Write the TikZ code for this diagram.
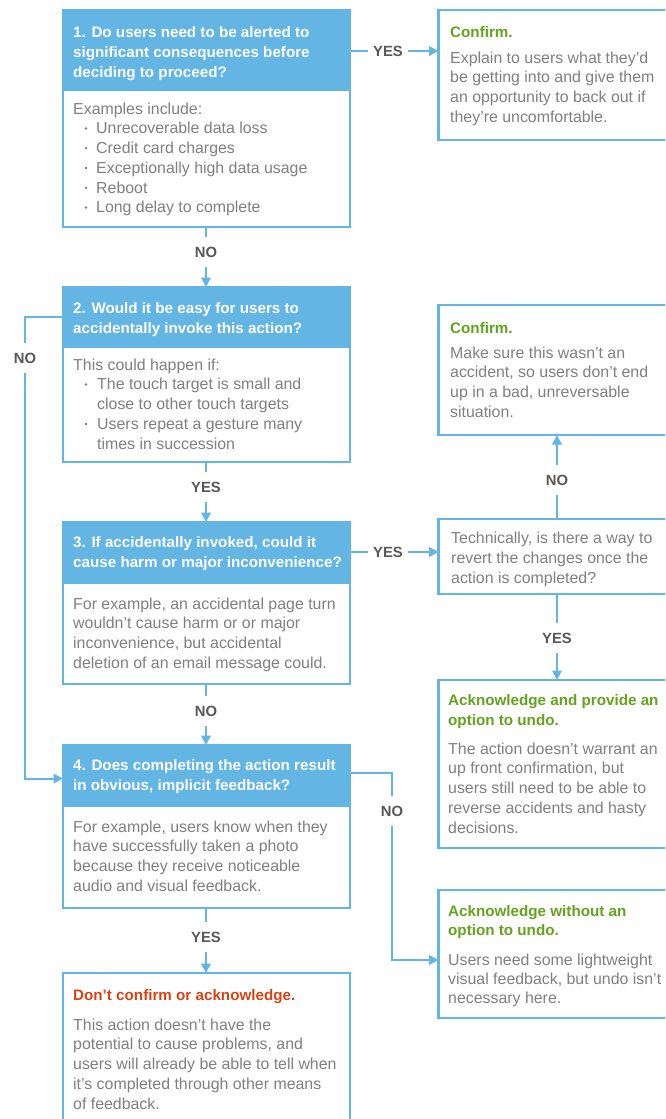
\documentclass[tikz,border=0pt]{standalone}
\usepackage{fontspec}
\setmainfont{Liberation Sans}
\usetikzlibrary{arrows.meta}

\definecolor{qblue}{RGB}{99,181,228}
\definecolor{bodygray}{RGB}{128,128,128}
\definecolor{okgreen}{RGB}{100,163,28}
\definecolor{stopred}{RGB}{216,67,21}
\definecolor{lblgray}{RGB}{88,88,88}

% one node per text row: prefix, style, x, first baseline, row step, rows
\newcommand\textrows[6]{%
  \foreach \row [count=\k from 0] in {#6}
    \node[#2] (#1-\k) at (#3,{#4+#5*\k}) {\row};}

\begin{document}
\begin{tikzpicture}[x=1pt,y=-1pt,
  frame/.style={draw=qblue, line width=2.3pt, inner sep=0pt, outer sep=0pt, anchor=north west},
  head/.style={fill=qblue, draw=qblue, line width=2.3pt, inner sep=0pt, outer sep=0pt, anchor=north west},
  qtext/.style={anchor=base west, inner sep=0pt, font=\bfseries\fontsize{15.2}{20}\selectfont, text=white},
  btext/.style={anchor=base west, inner sep=0pt, font=\fontsize{15.9}{20}\selectfont, text=bodygray},
  gtitle/.style={qtext, text=okgreen},
  rtitle/.style={qtext, text=stopred},
  dot/.style={circle, fill=bodygray, inner sep=0pt, minimum size=2.8pt},
  lbl/.style={font=\bfseries\fontsize{14.8}{14.8}\selectfont, text=lblgray, inner xsep=4.5pt, inner ysep=10pt},
  link/.style={draw=qblue, line width=2pt},
  arr/.style={link, -{Triangle[length=9.5pt,width=9.5pt]}},
]
\path[use as bounding box, fill=white] (0,0) rectangle (665,1119);
\clip (0,0) rectangle (665,1119);

% ---------- question boxes (left column) ----------
\node[head,  minimum width=287pt, minimum height=80pt]  (q1h) at (63,10) {};
\node[frame, minimum width=287pt, minimum height=217pt] (q1)  at (63,10) {};
\node[head,  minimum width=287pt, minimum height=60pt]  (q2h) at (63,287) {};
\node[frame, minimum width=287pt, minimum height=175pt] (q2)  at (63,287) {};
\node[head,  minimum width=287pt, minimum height=61pt]  (q3h) at (63,522) {};
\node[frame, minimum width=287pt, minimum height=162pt] (q3)  at (63,522) {};
\node[head,  minimum width=287pt, minimum height=61pt]  (q4h) at (63,745) {};
\node[frame, minimum width=287pt, minimum height=163pt] (q4)  at (63,745) {};
\node[frame, minimum width=287pt, minimum height=170pt] (q5)  at (63,973) {};

% ---------- outcome boxes (right column) ----------
\node[frame, minimum width=262pt, minimum height=130pt] (c1) at (438.5,10) {};
\node[frame, minimum width=262pt, minimum height=130pt] (c2) at (438.5,305) {};
\node[frame, minimum width=262pt, minimum height=75pt]  (t)  at (438.5,519) {};
\node[frame, minimum width=262pt, minimum height=168pt] (a1) at (438.5,680) {};
\node[frame, minimum width=262pt, minimum height=128pt] (a2) at (438.5,890) {};

% ---------- texts ----------
\textrows{q1t}{qtext}{73}{37}{20}{1. Do users need to be alerted to, significant consequences before, deciding to proceed?}
\node[btext] (q1i) at (73,114) {Examples include:};
\textrows{q1b}{btext}{96}{133.75}{19.75}{Unrecoverable data loss, Credit card charges, Exceptionally high data usage, Reboot, Long delay to complete}
\foreach \k in {0,...,4} \node[dot] (q1d-\k) at (86,{128.5+19.75*\k}) {};

\node[gtitle] (c1t) at (450,37) {Confirm.};
\textrows{c1b}{btext}{450}{63}{19.75}{Explain to users what they’d, be getting into and give them, an opportunity to back out if, they’re uncomfortable.}

\textrows{q2t}{qtext}{73}{313}{20}{2. Would it be easy for users to, accidentally invoke this action?}
\node[btext] (q2i) at (73,370) {This could happen if:};
\textrows{q2b}{btext}{97}{389.75}{19.75}{The touch target is small and, close to other touch targets, Users repeat a gesture many, times in succession}
\node[dot] (q2d-0) at (86,384.5) {};
\node[dot] (q2d-1) at (86,424) {};

\node[gtitle] (c2t) at (450,333) {Confirm.};
\textrows{c2b}{btext}{450}{358}{19.75}{Make sure this wasn’t an, {accident, so users don’t end}, {up in a bad, unreversable}, situation.}

\textrows{tb}{btext}{451}{543}{20}{{Technically, is there a way to}, revert the changes once the, action is completed?}

\textrows{q3t}{qtext}{73}{547}{20}{{3. If accidentally invoked, could it}, cause harm or major inconvenience?}
\textrows{q3b}{btext}{73}{609}{19.75}{{For example, an accidental page turn}, wouldn’t cause harm or or major, {inconvenience, but accidental}, deletion of an email message could.}

\textrows{a1t}{gtitle}{448}{705}{20}{Acknowledge and provide an, option to undo.}
\textrows{a1b}{btext}{448}{754}{19.75}{The action doesn’t warrant an, {up front confirmation, but}, users still need to be able to, reverse accidents and hasty, decisions.}

\textrows{q4t}{qtext}{73}{770}{20}{4. Does completing the action result, {in obvious, implicit feedback?}}
\textrows{q4b}{btext}{73}{832}{19.75}{{For example, users know when they}, have successfully taken a photo, because they receive noticeable, audio and visual feedback.}

\textrows{a2t}{gtitle}{448}{916}{19.5}{Acknowledge without an, option to undo.}
\textrows{a2b}{btext}{448}{965}{19.25}{Users need some lightweight, {visual feedback, but undo isn’t}, necessary here.}

\node[rtitle] (q5t) at (73,1000) {Don’t confirm or acknowledge.};
\textrows{q5b}{btext}{73}{1030}{19.75}{This action doesn’t have the, {potential to cause problems, and}, users will already be able to tell when, it’s completed through other means, of feedback.}

% ---------- connector labels ----------
\node[lbl] (y1) at (388,51)  {YES};
\node[lbl] (n1) at (206,252) {NO};
\node[lbl] (n2) at (25,358)  {NO};
\node[lbl] (y2) at (206,487) {YES};
\node[lbl] (y3) at (388,552) {YES};
\node[lbl] (n3) at (206,711) {NO};
\node[lbl] (n4) at (392,811) {NO};
\node[lbl] (y4) at (206,937) {YES};
\node[lbl] (n5) at (557,480) {NO};
\node[lbl] (y5) at (557,638) {YES};

% ---------- connectors ----------
\draw[link] (y1.west -| q1.east) -- (y1.west);
\draw[arr]  (y1.east) -- (y1.east -| c1.west);

\draw[link] (n1 |- q1.south) -- (n1.north);
\draw[arr]  (n1.south) -- (n1 |- q2h.north);

\draw[link] (q2h.west) -| (n2.north);
\draw[arr]  (n2.south) |- ([yshift=-3pt]q4h.west);

\draw[link] (y2 |- q2.south) -- (y2.north);
\draw[arr]  (y2.south) -- (y2 |- q3h.north);

\draw[link] (y3.west -| q3.east) -- (y3.west);
\draw[arr]  (y3.east) -- (y3.east -| t.west);

\draw[link] (n5 |- t.north) -- (n5.south);
\draw[arr]  (n5.north) -- (n5 |- c2.south);

\draw[link] (y5 |- t.south) -- (y5.north);
\draw[arr]  (y5.south) -- (y5 |- a1.north);

\draw[link] (n3 |- q3.south) -- (n3.north);
\draw[arr]  (n3.south) -- (n3 |- q4h.north);

\draw[link] ([yshift=2.5pt]q4h.east) -| (n4.north);
\draw[arr]  (n4.south) |- ([yshift=-6pt]a2.west);

\draw[link] (y4 |- q4.south) -- (y4.north);
\draw[arr]  (y4.south) -- (y4 |- q5.north);
\end{tikzpicture}
\end{document}
